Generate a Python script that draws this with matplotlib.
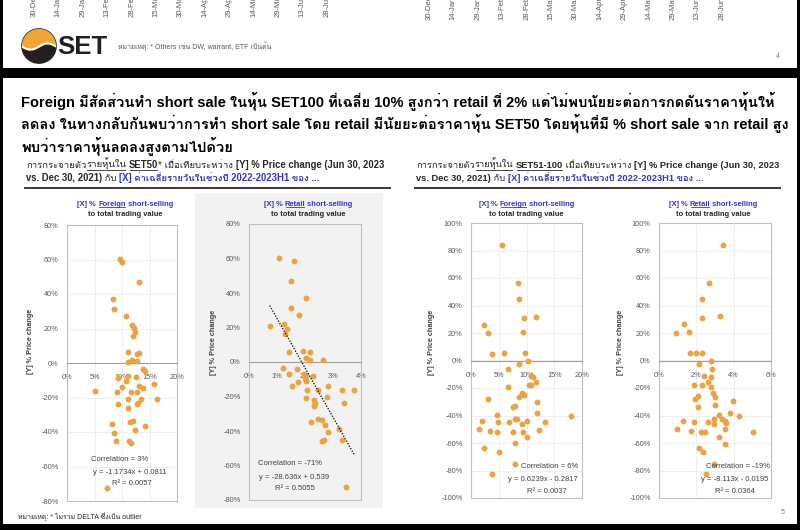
import numpy as np
import matplotlib
matplotlib.use("Agg")
import matplotlib.pyplot as plt
from matplotlib import font_manager
from matplotlib.ft2font import FT2Font
from matplotlib.lines import Line2D
from matplotlib.patches import Rectangle, Circle
from matplotlib.ticker import PercentFormatter, MultipleLocator

# values, in %
f50_x = [9.6, 10.0, 13.1, 8.4, 8.6, 10.8, 11.9, 12.2, 12.4, 12.0, 11.0, 12.7, 13.0, 11.0, 11.9, 12.7,
         13.9, 14.1, 11.0, 12.5, 9.2, 10.7, 5.1, 9.0, 10.0, 11.7, 12.8, 13.0, 13.9, 15.8, 16.3, 9.2,
         11.1, 13.5, 12.9, 12.7, 11.1, 8.1, 11.4, 12.0, 12.4, 14.1, 8.6, 8.9, 11.2, 11.6, 7.2]
f50_y = [60.5, 58.6, 47.0, 36.9, 31.1, 27.1, 21.9, 20.5, 18.0, 15.9, 6.4, 5.4, 6.0, 0.6, 1.9, 1.0,
         -3.7, -4.4, -7.4, -8.1, -8.9, -10.3, -16.2, -16.6, -14.1, -16.6, -16.6, -13.3, -14.5, -12.0,
         -20.7, -23.6, -20.7, -21.1, -23.2, -24.0, -25.9, -35.4, -34.2, -33.7, -39.1, -36.8, -40.4,
         -45.5, -45.3, -46.4, -72.5]

r50_x = [1.07, 1.61, 1.49, 2.05, 1.50, 1.80, 0.74, 1.25, 1.34, 1.27, 1.42, 1.92, 2.17, 2.02, 2.18,
         2.63, 1.22, 1.42, 1.71, 1.95, 1.99, 2.29, 1.75, 2.05, 1.53, 2.08, 2.45, 2.81, 3.33, 3.75,
         2.02, 2.31, 2.34, 2.33, 2.78, 3.39, 2.22, 2.45, 2.61, 2.71, 2.83, 3.20, 2.59, 2.67, 3.33, 3.47]
r50_y = [60.3, 58.4, 47.0, 37.1, 31.3, 27.2, 20.9, 22.0, 19.1, 16.2, 6.0, 6.4, 5.6, 2.3, 1.2, 1.2,
         -3.3, -7.0, -4.1, -6.8, -9.5, -8.1, -11.6, -11.0, -14.1, -16.2, -16.2, -14.1, -16.2, -16.2,
         -20.9, -22.0, -24.0, -25.5, -20.5, -23.6, -35.0, -32.9, -33.4, -36.7, -40.8, -38.8, -45.6,
         -45.2, -45.4, -72.5]

f100_x = [5.5, 8.5, 8.7, 9.6, 11.7, 2.3, 3.1, 9.4, 3.7, 5.9, 9.8, 10.3, 8.6, 6.6, 10.8, 11.1, 11.8,
          10.5, 10.8, 6.6, 9.2, 9.6, 8.7, 11.9, 3.1, 7.9, 7.6, 11.9, 18.1, 4.6, 2.0, 4.8, 6.8, 7.9,
          8.3, 10.0, 13.3, 9.2, 1.5, 3.5, 4.6, 7.6, 9.4, 12.2, 10.0, 2.4, 8.0, 5.0, 7.9, 3.8]
f100_y = [84.2, 56.1, 44.5, 31.0, 31.9, 26.1, 19.8, 20.6, 4.8, 5.3, 5.8, 0.0, -2.7, -6.3, -11.1,
          -12.3, -15.5, -18.1, -17.7, -19.1, -23.7, -25.2, -26.4, -30.0, -28.1, -33.1, -34.1, -38.5,
          -40.6, -39.7, -44.3, -45.0, -45.0, -42.8, -42.8, -43.8, -45.0, -46.4, -50.1, -51.3, -52.0,
          -52.0, -52.0, -50.5, -55.4, -63.4, -60.2, -66.5, -75.2, -82.7]

r100_x = [3.44, 2.69, 2.31, 2.29, 3.28, 1.36, 0.91, 1.61, 1.68, 1.97, 2.31, 2.79, 2.13, 2.83, 2.42,
          2.81, 2.60, 1.86, 2.31, 2.79, 2.87, 2.11, 2.99, 1.93, 3.99, 2.08, 2.99, 3.83, 3.19, 4.26,
          2.97, 3.35, 3.51, 3.58, 1.29, 1.88, 2.63, 2.97, 3.55, 0.99, 1.72, 2.24, 2.44, 5.05, 3.21,
          3.51, 2.13, 2.38, 2.92, 2.51]
r100_y = [83.9, 56.4, 44.5, 31.0, 32.2, 26.4, 19.8, 20.6, 5.6, 5.1, 5.8, 0.0, -2.4, -6.0, -11.1,
          -11.8, -15.5, -17.7, -18.1, -19.3, -23.7, -25.6, -26.4, -27.8, -29.7, -33.9, -32.4, -38.5,
          -39.7, -40.4, -42.6, -42.8, -43.8, -45.2, -44.0, -45.0, -44.5, -46.4, -50.1, -50.1, -51.3,
          -52.0, -52.0, -51.8, -55.4, -60.5, -63.4, -66.5, -75.2, -82.7]

# trendline of the retail SET50 panel (from the chart label)
r50_slope, r50_icept = -28.636, 0.539

prev_dates = ["30-Dec", "14-Jan", "29-Jan", "13-Feb", "28-Feb", "15-Mar", "30-Mar",
              "14-Apr", "29-Apr", "14-May", "29-May", "13-Jun", "28-Jun"]

title_lines = [
    "Foreign มีสัดส่วนทำ short sale ในหุ้น SET100 ที่เฉลี่ย 10% สูงกว่า retail ที่ 2% แต่ไม่พบนัยยะต่อการกดดันราคาหุ้นให้",
    "ลดลง ในทางกลับกันพบว่าการทำ short sale โดย retail มีนัยยะต่อราคาหุ้น SET50 โดยหุ้นที่มี % short sale จาก retail สูง",
    "พบว่าราคาหุ้นลดลงสูงตามไปด้วย",
]


def thai_family():
    for fe in font_manager.fontManager.ttflist:
        try:
            if 0x0E01 in FT2Font(fe.fname).get_charmap():
                return [fe.name]
        except Exception:
            pass
    return []


def installed(name):
    try:
        font_manager.findfont(font_manager.FontProperties(family=name), fallback_to_default=False)
        return True
    except Exception:
        return False


THAI = thai_family()
FAM = ["Liberation Sans"] + THAI + ["DejaVu Sans"]
FAM_T = (["Liberation Sans Narrow"] if installed("Liberation Sans Narrow") else []) + FAM
plt.rcParams["font.family"] = FAM
plt.rcParams["axes.unicode_minus"] = False

W, H = 800, 530
DOT = "#EBA341"
DARK = "#262626"
BLUE = "#3434C8"
GREY = "#595959"
FRAME = "#C0C0C0"

fig = plt.figure(figsize=(8, 5.3), dpi=100, facecolor="black")
R = fig.canvas.get_renderer()


def fx(x):
    return x / W


def fy(y):
    return 1 - y / H


def rect(x0, y0, x1, y1, color):
    fig.add_artist(Rectangle((fx(x0), fy(y1)), (x1 - x0) / W, (y1 - y0) / H,
                             transform=fig.transFigure, color=color, lw=0, zorder=-5))


def hline(x0, x1, y, color, lw):
    fig.add_artist(Line2D([fx(x0), fx(x1)], [fy(y), fy(y)], transform=fig.transFigure,
                          color=color, lw=lw))


def width(s, size, weight, fam=None):
    fam = fam or FAM
    t = fig.text(0, 0, "|" + s + "|", fontsize=size, fontweight=weight, family=fam)
    t2 = fig.text(0, 0, "||", fontsize=size, fontweight=weight, family=fam)
    w = t.get_window_extent(R).width - t2.get_window_extent(R).width
    t.remove()
    t2.remove()
    return w


def fit(parts, target, base=10, fam=None):
    tot = sum(width(p[0], base, p[1], fam) for p in parts)
    return base * target / tot


def runs(x, y, parts, size, center=False, fam=None):
    fam = fam or FAM
    ws = [width(p[0], size, p[1], fam) for p in parts]
    cur = x - sum(ws) / 2 if center else x
    for (s, wt, col, ul), w in zip(parts, ws):
        fig.text(fx(cur), fy(y), s, fontsize=size, fontweight=wt, color=col,
                 ha="left", va="baseline", family=fam)
        if ul:
            hline(cur + 1, cur + w - 1, y + 1.6, col, 0.6)
        cur += w


# slide backgrounds
rect(3, 0, 797, 68, "white")
rect(3, 78, 797, 524, "white")

# bottom of previous slide
for i, d in enumerate(prev_dates):
    fig.text(fx(34 + i * 24.4), fy(17), d + "-23", rotation=90, ha="center", va="bottom",
             fontsize=5.5, color=GREY)
    fig.text(fx(429 + i * 24.4), fy(19.5), d + "-23", rotation=90, ha="center", va="bottom",
             fontsize=5.5, color=GREY)

logo = fig.add_axes([fx(21), fy(64), 36 / W, 36 / H])
logo.set_xlim(-1.05, 1.05)
logo.set_ylim(-1.05, 1.05)
logo.axis("off")
clip = Circle((0, 0), 1, transform=logo.transData)
logo.add_patch(Circle((0, 0), 1, color="#231F20"))
wx = np.linspace(-1.1, 1.1, 100)
wave = 0.18 * np.sin(np.pi * wx) + 0.05
band = logo.fill_between(wx, wave, 1.2, color="#EFA634")
band.set_clip_path(clip)
wl, = logo.plot(wx, wave - 0.08, color="white", lw=1.6)
wl.set_clip_path(clip)
fig.text(fx(57), fy(47), "SET", fontsize=18.5, fontweight="bold", color="#231F20",
         ha="left", va="center")
fig.text(fx(118), fy(49), "หมายเหตุ: * Others เช่น DW, warrant, ETF เป็นต้น", fontsize=5,
         color=GREY, va="baseline")
fig.text(fx(778), fy(56), "4", fontsize=5, color="#808080", ha="center", va="center")

# headline
tsize = min(fit([(title_lines[0], "bold")], 765, fam=FAM_T),
            fit([(title_lines[1], "bold")], 766, fam=FAM_T))
for i, line in enumerate(title_lines):
    runs(21, 107 + i * 22.5, [(line, "bold", "black", False)], tsize, fam=FAM_T)

# sub headings
for x0, x1, grp, star in [(26, 383, "SET50", "*"), (416, 778, "SET51-100", "")]:
    p1 = [("การกระจายตัว", "normal", DARK, False), ("รายหุ้นใน", "normal", DARK, True),
          (" ", "normal", DARK, False), (grp, "bold", DARK, True), (star, "normal", DARK, False),
          (" เมื่อเทียบระหว่าง ", "normal", DARK, False),
          ("[Y] % Price change (Jun 30, 2023", "bold", DARK, False)]
    p2 = [("vs. Dec 30, 2021)", "bold", DARK, False), (" กับ ", "normal", DARK, False),
          ("[X] ค่าเฉลี่ยรายวันในช่วงปี 2022-2023H1 ของ ...", "bold", BLUE, False)]
    ssize = fit([(p[0], p[1]) for p in p1], x1 - x0)
    runs(x0, 168, p1, ssize)
    runs(x0, 181, p2, ssize)
hline(25, 390, 188, "#3A3A3A", 1.4)
hline(415, 780, 188, "#3A3A3A", 1.4)

rect(195, 193, 383, 508, "#F2F2F2")


def panel(box, xs, ys, xmax, xstep, ymax, who, notes, lab, bg="white", grid=True, trend=None):
    x0, y0, x1, y1 = box
    ax = fig.add_axes([fx(x0), fy(y1), (x1 - x0) / W, (y1 - y0) / H])
    ax.set_facecolor(bg)
    ax.scatter(np.array(xs) / 100, np.array(ys) / 100, s=18, color=DOT, lw=0, zorder=3)
    if trend:
        xx = np.array([min(xs), max(xs)]) / 100
        ax.plot(xx, trend[0] * xx + trend[1], color="black", ls=(0, (1, 1.3)), lw=0.9, zorder=4)
    ax.set_xlim(0, xmax)
    ax.set_ylim(-ymax, ymax)
    ax.xaxis.set_major_locator(MultipleLocator(xstep))
    ax.yaxis.set_major_locator(MultipleLocator(0.2))
    ax.xaxis.set_major_formatter(PercentFormatter(1.0, decimals=0))
    ax.yaxis.set_major_formatter(PercentFormatter(1.0, decimals=0))
    for s in ["left", "right", "top"]:
        ax.spines[s].set_color(FRAME)
        ax.spines[s].set_linewidth(0.8)
    ax.spines["bottom"].set_position(("data", 0))
    ax.spines["bottom"].set_color("#A0A0A0")
    ax.spines["bottom"].set_linewidth(0.8)
    ax.plot([0, 1], [0, 0], transform=ax.transAxes, color=FRAME, lw=0.8, clip_on=False)
    ax.tick_params(length=0, labelsize=5.3, labelcolor=GREY)
    ax.tick_params(axis="x", pad=8)
    ax.tick_params(axis="y", pad=6)
    if grid:
        ax.grid(True, color="#EDEDED", lw=0.6)
    ax.set_axisbelow(True)
    ax.set_ylabel("[Y] % Price change", fontsize=5.2, fontweight="bold", color="#404040")
    ax.yaxis.set_label_coords(*lab)
    for (tx, ty, s) in notes:
        ax.text(tx, ty, s, transform=ax.transAxes, ha="center", va="center", fontsize=5.5,
                color="#404040")
    cx = (x0 + x1) / 2 + who[1]
    runs(cx, 205.5, [("[X] % ", "bold", BLUE, False), (who[0], "bold", BLUE, True),
                     (" short-selling", "bold", BLUE, False)], 5.4, center=True)
    runs(cx, 216.5, [("to total trading value", "bold", DARK, False)], 5.4, center=True)
    return ax


panel((67, 225, 177, 501), f50_x, f50_y, 0.20, 0.05, 0.8, ("Foreign", 3),
      [(0.48, 0.152, "Correlation = 3%"), (0.573, 0.105, "y = -1.1734x + 0.0811"),
       (0.59, 0.065, "R² = 0.0057")], (-0.30, 0.58))
panel((249, 224, 361, 500), r50_x, r50_y, 0.04, 0.01, 0.8, ("Retail", 3),
      [(0.366, 0.134, "Correlation = -71%"), (0.40, 0.08, "y = -28.636x + 0.539"),
       (0.41, 0.04, "R² = 0.5055")], (-0.29, 0.572), bg="#F2F2F2", grid=False,
      trend=(r50_slope, r50_icept))
panel((471, 223, 582, 498), f100_x, f100_y, 0.20, 0.05, 1.0, ("Foreign", 0),
      [(0.71, 0.116, "Correlation = 6%"), (0.65, 0.069, "y = 0.6239x - 0.2817"),
       (0.685, 0.025, "R² = 0.0037")], (-0.32, 0.567))
panel((659, 223, 771, 498), r100_x, r100_y, 0.06, 0.02, 1.0, ("Retail", -2),
      [(0.705, 0.116, "Correlation = -19%"), (0.68, 0.069, "y = -8.113x - 0.0195"),
       (0.68, 0.025, "R² = 0.0364")], (-0.31, 0.567))

fig.text(fx(18), fy(520), "หมายเหตุ: * ไม่รวม DELTA ซึ่งเป็น outlier", fontsize=5, color=DARK,
         va="baseline")
fig.text(fx(783), fy(512), "5", fontsize=5, color="#808080", ha="center", va="center")

fig.savefig("out.png", dpi=100, facecolor="black")
